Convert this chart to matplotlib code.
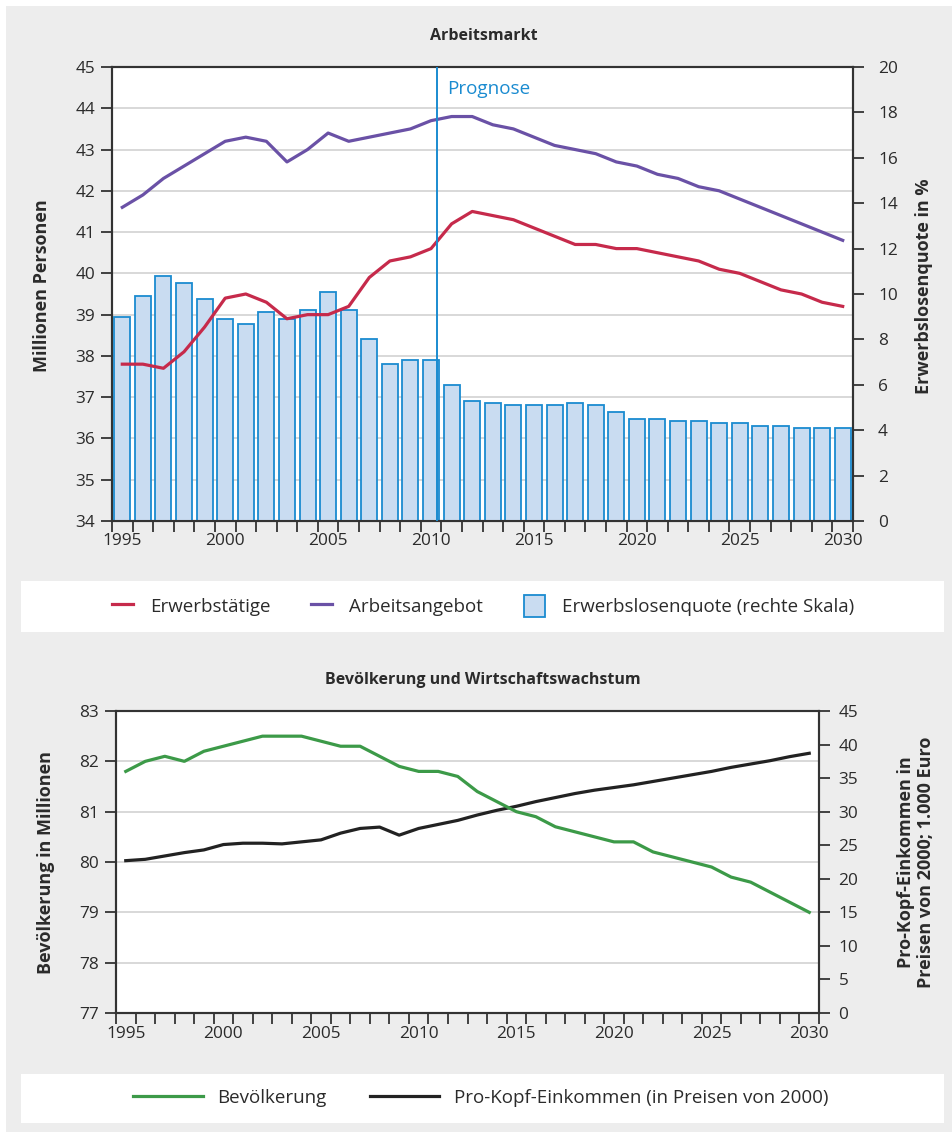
import numpy as np
import matplotlib
matplotlib.use("Agg")
import matplotlib.pyplot as plt
from matplotlib.patches import Rectangle
from matplotlib.lines import Line2D
from matplotlib.patches import Patch

plt.rcParams['font.family'] = ['Open Sans', 'DejaVu Sans']

years = list(range(1995, 2031))

# Arbeitsmarkt (Mio. Personen) and unemployment rate (%)
erwerbstaetige = [37.8, 37.8, 37.7, 38.1, 38.7, 39.4, 39.5, 39.3, 38.9, 39.0,
                  39.0, 39.2, 39.9, 40.3, 40.4, 40.6, 41.2, 41.5, 41.4, 41.3,
                  41.1, 40.9, 40.7, 40.7, 40.6, 40.6, 40.5, 40.4, 40.3, 40.1,
                  40.0, 39.8, 39.6, 39.5, 39.3, 39.2]
arbeitsangebot = [41.6, 41.9, 42.3, 42.6, 42.9, 43.2, 43.3, 43.2, 42.7, 43.0,
                  43.4, 43.2, 43.3, 43.4, 43.5, 43.7, 43.8, 43.8, 43.6, 43.5,
                  43.3, 43.1, 43.0, 42.9, 42.7, 42.6, 42.4, 42.3, 42.1, 42.0,
                  41.8, 41.6, 41.4, 41.2, 41.0, 40.8]
erwerbslosenquote = [9.0, 9.9, 10.8, 10.5, 9.8, 8.9, 8.7, 9.2, 8.9, 9.3,
                     10.1, 9.3, 8.0, 6.9, 7.1, 7.1, 6.0, 5.3, 5.2, 5.1,
                     5.1, 5.1, 5.2, 5.1, 4.8, 4.5, 4.5, 4.4, 4.4, 4.3,
                     4.3, 4.2, 4.2, 4.1, 4.1, 4.1]

# Bevölkerung (Mio.) and Pro-Kopf-Einkommen (1.000 Euro, Preise 2000)
bevoelkerung = [81.8, 82.0, 82.1, 82.0, 82.2, 82.3, 82.4, 82.5, 82.5, 82.5,
                82.4, 82.3, 82.3, 82.1, 81.9, 81.8, 81.8, 81.7, 81.4, 81.2,
                81.0, 80.9, 80.7, 80.6, 80.5, 80.4, 80.4, 80.2, 80.1, 80.0,
                79.9, 79.7, 79.6, 79.4, 79.2, 79.0]
einkommen = [22.7, 22.9, 23.4, 23.9, 24.3, 25.1, 25.3, 25.3, 25.2, 25.5,
             25.8, 26.8, 27.5, 27.7, 26.5, 27.5, 28.1, 28.7, 29.5, 30.2,
             30.8, 31.5, 32.1, 32.7, 33.2, 33.6, 34.0, 34.5, 35.0, 35.5,
             36.0, 36.6, 37.1, 37.6, 38.2, 38.7]

label_years = [1995, 2000, 2005, 2010, 2015, 2020, 2025, 2030]
prognose_year = 2010

BG = '#ededed'
TXT = '#2b2b2b'
SPINE = '#333333'
GRID = '#d6d6d6'
RED = '#c62a4b'
PURPLE = '#6a51a6'
BAR_FACE = '#c9dcf1'
BAR_EDGE = '#1a8bd0'
GREEN = '#3c9a48'
BLACK = '#222222'
BLUE_TXT = '#1a8bd0'

W, H = 952, 1132
fig = plt.figure(figsize=(W / 100, H / 100), dpi=100, facecolor=BG)

def fx(px):
    return px / W

def fy(py):
    return 1 - py / H

# white outer strips
fig.patches.append(Rectangle((0, fy(6)), 1, 6 / H, transform=fig.transFigure,
                             facecolor='white', edgecolor='none', zorder=0))
fig.patches.append(Rectangle((0, 0), 6 / W, 1, transform=fig.transFigure,
                             facecolor='white', edgecolor='none', zorder=0))
# legend boxes
fig.patches.append(Rectangle((fx(21), fy(632)), fx(944 - 21), 51 / H, transform=fig.transFigure,
                             facecolor='white', edgecolor='none', zorder=0))
fig.patches.append(Rectangle((fx(21), fy(1123)), fx(944 - 21), 49 / H, transform=fig.transFigure,
                             facecolor='white', edgecolor='none', zorder=0))

TICK_FS = 12.4
LW = 2.3
idx = np.arange(len(years))
lab_idx = [years.index(y) for y in label_years]


def style_xaxis(ax):
    ax.set_xlim(-0.5, len(years) - 0.5)
    ax.set_xticks(np.arange(-0.5, len(years), 1.0))
    ax.set_xticklabels([])
    ax.set_xticks(lab_idx, minor=True)
    ax.set_xticklabels([str(y) for y in label_years], minor=True)
    ax.tick_params(axis='x', which='major', direction='out', length=8, width=1.3,
                   color=SPINE)
    ax.tick_params(axis='x', which='minor', length=0, pad=9,
                   labelsize=TICK_FS, labelcolor=TXT)


def style_spines(ax):
    for s in ax.spines.values():
        s.set_color(SPINE)
        s.set_linewidth(1.5)


# ---------------- Top chart ----------------
axL = fig.add_axes([fx(112), fy(521), fx(853 - 112), (521 - 67) / H])
axL.set_facecolor('white')
axL.set_ylim(34, 45)
axL.set_yticks(range(34, 46))
axL.grid(axis='y', color=GRID, linewidth=1.3)
axL.set_axisbelow(True)
axL.tick_params(axis='y', direction='out', length=8, width=1.3, color=SPINE,
                labelsize=TICK_FS, labelcolor=TXT, pad=4)
style_xaxis(axL)
style_spines(axL)

axR = axL.twinx()
axR.set_ylim(0, 20)
axR.set_yticks(range(0, 21, 2))
axR.tick_params(axis='y', direction='out', length=8, width=1.3, color=SPINE,
                labelsize=TICK_FS, labelcolor=TXT, pad=10)
axR.bar(idx, erwerbslosenquote, width=0.78, color=BAR_FACE, edgecolor=BAR_EDGE,
        linewidth=1.3)
style_spines(axR)

axT = axL.twinx()
axT.set_ylim(34, 45)
axT.axis('off')
axT.set_xlim(-0.5, len(years) - 0.5)
axT.plot(idx, erwerbstaetige, color=RED, lw=LW, solid_joinstyle='round')
axT.plot(idx, arbeitsangebot, color=PURPLE, lw=LW, solid_joinstyle='round')
px = years.index(prognose_year) + 0.29
axT.axvline(px, color=BAR_EDGE, lw=1.4)
axT.text(px + 0.5, 44.47, 'Prognose', color=BLUE_TXT, fontsize=13.6,
         va='center', ha='left')

fig.text(fx(484), fy(36), 'Arbeitsmarkt', ha='center', va='center',
         fontsize=11.5, fontweight='bold', color=TXT)
fig.text(fx(42), fy(286), 'Millionen Personen', rotation=90, ha='center',
         va='center', fontsize=13, fontweight='bold', color=TXT)
fig.text(fx(924), fy(286), 'Erwerbslosenquote in %', rotation=90, ha='center',
         va='center', fontsize=13, fontweight='bold', color=TXT)

h1 = [Line2D([], [], color=RED, lw=LW),
      Line2D([], [], color=PURPLE, lw=LW),
      Patch(facecolor=BAR_FACE, edgecolor=BAR_EDGE, linewidth=1.3)]
leg1 = fig.legend(h1, ['Erwerbstätige', 'Arbeitsangebot',
                       'Erwerbslosenquote (rechte Skala)'],
                  loc='center', bbox_to_anchor=(fx(483), fy(606)), ncol=3,
                  frameon=False, fontsize=13.5, handlelength=1.1,
                  handleheight=1.4, handletextpad=0.9, columnspacing=2.2,
                  labelcolor=TXT)

# ---------------- Bottom chart ----------------
bL = fig.add_axes([fx(116), fy(1013), fx(819 - 116), (1013 - 711) / H])
bL.set_facecolor('white')
bL.set_ylim(77, 83)
bL.set_yticks(range(77, 84))
bL.grid(axis='y', color=GRID, linewidth=1.3)
bL.set_axisbelow(True)
bL.tick_params(axis='y', direction='out', length=8, width=1.3, color=SPINE,
               labelsize=TICK_FS, labelcolor=TXT, pad=4)
style_xaxis(bL)
style_spines(bL)
bL.spines['top'].set_color('#555555')

bR = bL.twinx()
bR.set_ylim(0, 45)
bR.set_yticks(range(0, 46, 5))
bR.tick_params(axis='y', direction='out', length=8, width=1.3, color=SPINE,
               labelsize=TICK_FS, labelcolor=TXT, pad=6)
style_spines(bR)
bR.plot(idx, einkommen, color=BLACK, lw=LW, solid_joinstyle='round')
bL2 = bL.twinx()
bL2.set_ylim(77, 83)
bL2.axis('off')
bL2.set_xlim(-0.5, len(years) - 0.5)
bL2.plot(idx, bevoelkerung, color=GREEN, lw=LW, solid_joinstyle='round')

fig.text(fx(483), fy(680), 'Bevölkerung und Wirtschaftswachstum', ha='center',
         va='center', fontsize=11.5, fontweight='bold', color=TXT)
fig.text(fx(46), fy(862), 'Bevölkerung in Millionen', rotation=90, ha='center',
         va='center', fontsize=13, fontweight='bold', color=TXT)
fig.text(fx(916), fy(862), 'Pro-Kopf-Einkommen in\nPreisen von 2000; 1.000 Euro',
         rotation=90, ha='center', va='center', fontsize=13,
         fontweight='bold', color=TXT, linespacing=1.2)

h2 = [Line2D([], [], color=GREEN, lw=LW),
      Line2D([], [], color=BLACK, lw=LW)]
fig.legend(h2, ['Bevölkerung', 'Pro-Kopf-Einkommen (in Preisen von 2000)'],
           loc='center', bbox_to_anchor=(fx(481), fy(1098)), ncol=2,
           frameon=False, fontsize=13.5, handlelength=3.7, handletextpad=0.8,
           columnspacing=2.3, labelcolor=TXT)

fig.savefig('out.png', dpi=100, facecolor=BG)
